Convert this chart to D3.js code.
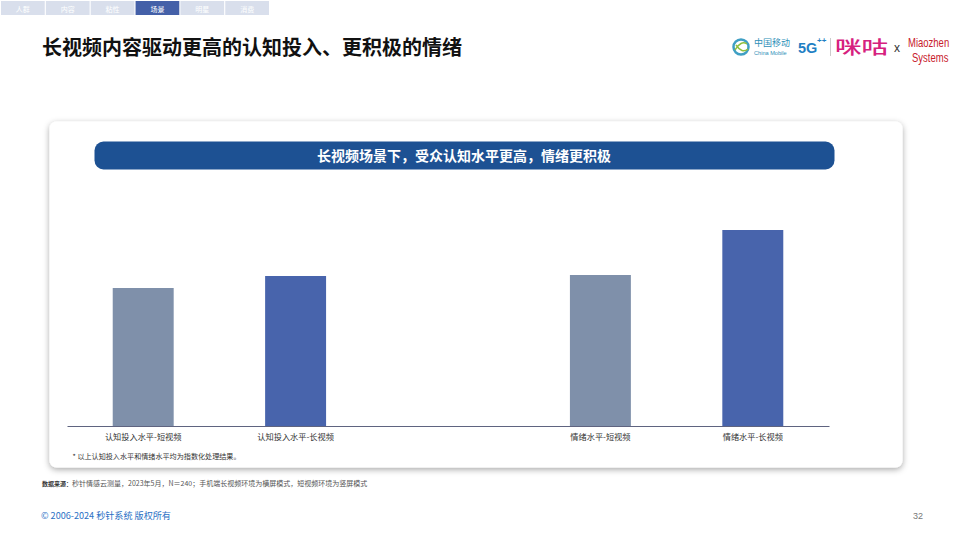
<!DOCTYPE html>
<html>
<head>
<meta charset="utf-8">
<script src="https://cdnjs.cloudflare.com/ajax/libs/d3/7.8.5/d3.min.js"></script>
<style>
html, body { margin: 0; padding: 0; background: #fff; }
svg { display: block; }
text { font-family: "Noto Sans CJK SC", "Liberation Sans", sans-serif; }
</style>
</head>
<body>
<svg id="chart" width="960" height="540"></svg>
<script>
// values are unlabeled in the picture, so these are index estimates from bar height
var categories = ["认知投入水平-短视频", "认知投入水平-长视频", " ", "情绪水平-短视频", "情绪水平-长视频"];
var values = [138, 150, null, 151, 196];
var barColors = ["#7f90aa", "#4864ac", null, "#7f90aa", "#4864ac"];
var navItems = ["人群", "内容", "粘性", "场景", "明星", "消费"];
var activeNav = "场景";

var svg = d3.select("#chart");

// Top navigation tabs
var nav = d3.scaleBand().domain(navItems).range([1, 269]).paddingInner(0.025);
var tabs = svg.selectAll("g.tab").data(navItems).enter().append("g")
    .attr("transform", function (d) { return "translate(" + nav(d) + ",1)"; });
tabs.append("rect")
    .attr("width", nav.bandwidth())
    .attr("height", 14)
    .attr("fill", function (d) { return d === activeNav ? "#4460a8" : "#d9dfec"; });
tabs.append("text")
    .attr("x", nav.bandwidth() / 2)
    .attr("y", 10.5)
    .attr("text-anchor", "middle")
    .attr("font-size", 7)
    .attr("fill", "#fff")
    .text(function (d) { return d; });

// Title
svg.append("text")
    .attr("x", 42).attr("y", 55)
    .attr("font-size", 20)
    .attr("font-weight", 700)
    .attr("fill", "#111")
    .text("长视频内容驱动更高的认知投入、更积极的情绪");

// Logos, rough versions
var logo = svg.append("g");
logo.append("circle").attr("cx", 741).attr("cy", 47).attr("r", 7.5)
    .attr("fill", "none").attr("stroke", "#3f9fc4").attr("stroke-width", 2.5);
logo.append("path").attr("d", "M735 50 Q741 40 747 44 M736 45 Q742 54 748 49")
    .attr("fill", "none").attr("stroke", "#8fbf3f").attr("stroke-width", 1.5);
logo.append("text").attr("x", 754).attr("y", 46).attr("font-size", 9).attr("fill", "#2f8fb8").text("中国移动");
logo.append("text").attr("x", 754).attr("y", 54.5).attr("font-size", 5.6).attr("fill", "#2f8fb8")
    .style("font-family", "Liberation Sans").text("China Mobile");
logo.append("text").attr("x", 798).attr("y", 53).attr("font-size", 14.5).attr("font-weight", 700)
    .style("font-family", "Liberation Sans").attr("fill", "#1f7fc4").text("5G");
logo.append("text").attr("x", 817).attr("y", 43).attr("font-size", 8).attr("font-weight", 700)
    .style("font-family", "Liberation Sans").attr("fill", "#1f7fc4").text("++");
logo.append("line").attr("x1", 830.5).attr("x2", 830.5).attr("y1", 38).attr("y2", 56)
    .attr("stroke", "#ccc").attr("stroke-width", 1);
logo.append("text").attr("x", 835).attr("y", 54).attr("font-size", 18).attr("font-weight", 500)
    .attr("fill", "#d6217e").attr("textLength", 53).attr("lengthAdjust", "spacingAndGlyphs").text("咪咕");
logo.append("text").attr("x", 894).attr("y", 52).attr("font-size", 12)
    .style("font-family", "Liberation Sans").attr("fill", "#333").text("x");
// tall narrow wordmark
logo.append("text").attr("transform", "translate(908,47) scale(0.95,1.3)").attr("font-size", 10)
    .style("font-family", "Liberation Sans").attr("fill", "#c8202c").text("Miaozhen");
logo.append("text").attr("transform", "translate(912,61.5) scale(0.95,1.3)").attr("font-size", 10)
    .style("font-family", "Liberation Sans").attr("fill", "#c8202c").text("Systems");

// Card with soft shadow
var defs = svg.append("defs");
var shadow = defs.append("filter").attr("id", "cardShadow")
    .attr("x", "-5%").attr("y", "-5%").attr("width", "110%").attr("height", "110%");
shadow.append("feDropShadow").attr("dx", 0).attr("dy", 2).attr("stdDeviation", 3)
    .attr("flood-color", "#000").attr("flood-opacity", 0.35);
svg.append("rect")
    .attr("x", 49.5).attr("y", 121.5).attr("width", 853).attr("height", 346).attr("rx", 7)
    .attr("fill", "#fff").attr("filter", "url(#cardShadow)");

// Banner
svg.append("rect")
    .attr("x", 94.5).attr("y", 141.5).attr("width", 740).attr("height", 28).attr("rx", 9)
    .attr("fill", "#1d5193");
svg.append("text")
    .attr("x", 464).attr("y", 160.5)
    .attr("text-anchor", "middle")
    .attr("font-size", 14)
    .attr("font-weight", 700)
    .attr("fill", "#fff")
    .text("长视频场景下，受众认知水平更高，情绪更积极");

// Bars
var x = d3.scaleBand().domain(categories).range([67, 829]).paddingInner(0.6).paddingOuter(0.3);
var y = d3.scaleLinear().domain([0, 200]).range([426, 226]);

svg.selectAll("rect.bar")
    .data(categories.map(function (c, i) { return { name: c, value: values[i], color: barColors[i] }; })
        .filter(function (d) { return d.value !== null; }))
    .enter().append("rect")
    .attr("class", "bar")
    .attr("x", function (d) { return x(d.name); })
    .attr("y", function (d) { return y(d.value); })
    .attr("width", x.bandwidth())
    .attr("height", function (d) { return y(0) - y(d.value); })
    .attr("fill", function (d) { return d.color; });

var axis = svg.append("g")
    .attr("transform", "translate(0,426)")
    .call(d3.axisBottom(x).tickSize(0).tickSizeOuter(0).tickPadding(8));
axis.select(".domain").attr("stroke", "#5f6480").attr("stroke-width", 1);
axis.selectAll("text")
    .attr("font-size", 8.2)
    .attr("fill", "#333")
    .style("font-family", '"Noto Sans CJK SC", sans-serif');

// Notes and footer
svg.append("text").attr("x", 72.5).attr("y", 459).attr("font-size", 7.1).attr("fill", "#333")
    .text("* 以上认知投入水平和情绪水平均为指数化处理结果。");
var source = svg.append("text").attr("x", 42).attr("y", 486).attr("font-size", 7).attr("fill", "#555");
source.append("tspan").attr("font-weight", 700).attr("font-size", 6).attr("fill", "#333").text("数据来源：");
source.append("tspan").text("秒针情感云测量，2023年5月，N＝240；手机端长视频环境为横屏模式，短视频环境为竖屏模式");
svg.append("text").attr("x", 41).attr("y", 519).attr("font-size", 9.1).attr("fill", "#2a6fc4")
    .text("© 2006-2024 秒针系统 版权所有");
svg.append("text").attr("x", 923).attr("y", 519).attr("text-anchor", "end").attr("font-size", 9).attr("fill", "#777")
    .style("font-family", "Liberation Sans").text("32");
</script>
</body>
</html>
